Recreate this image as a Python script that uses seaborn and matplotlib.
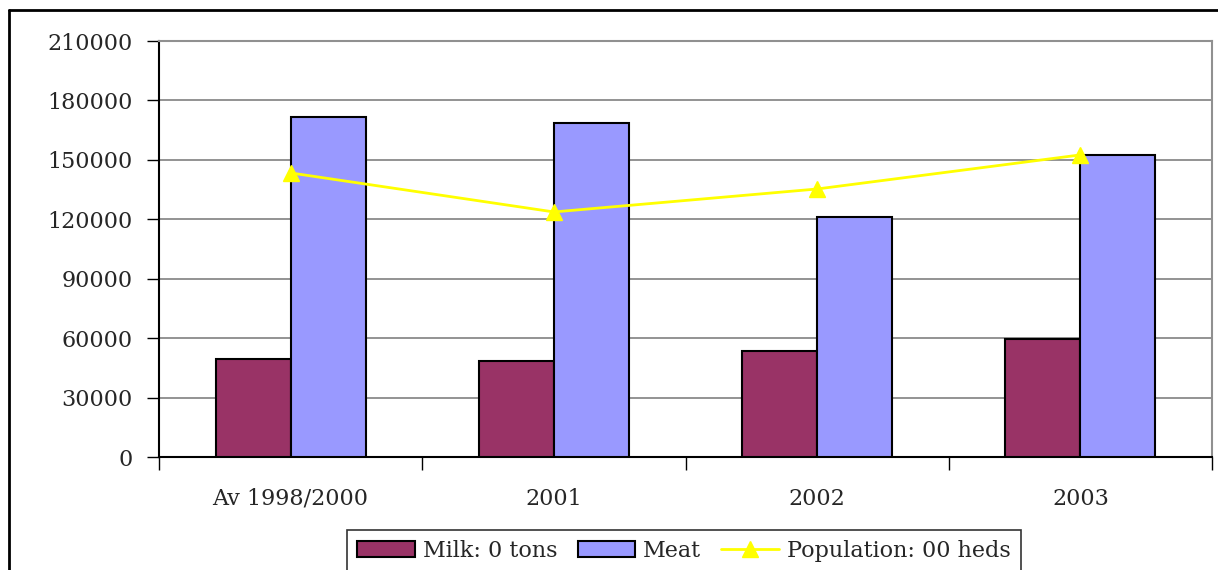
import matplotlib
matplotlib.use("Agg")
import matplotlib.pyplot as plt
from matplotlib.lines import Line2D
from matplotlib.patches import Patch
import seaborn as sns
import pandas as pd

# Chart data
periods = ["Av 1998/2000", "2001", "2002", "2003"]
milk_tons = [49500, 48500, 53500, 59600]
meat = [171600, 168600, 121100, 152400]
population = [143400, 123700, 135300, 152500]
y_ticks = [0, 30000, 60000, 90000, 120000, 150000, 180000, 210000]

series_names = ["Milk: 0 tons", "Meat"]
line_name = "Population: 00 heds"
colors = {"Milk: 0 tons": "#993366", "Meat": "#9999FF"}

df = pd.DataFrame({
    "period": periods * 2,
    "value": milk_tons + meat,
    "series": [series_names[0]] * len(periods) + [series_names[1]] * len(periods),
})

sns.set_theme(style="white")
plt.rcParams["font.family"] = ["DejaVu Serif"]

W, H = 1218, 570
fig = plt.figure(figsize=(W / 100, H / 100), dpi=100)
ax = fig.add_axes([159 / W, 1 - 457 / H, (1212 - 159) / W, (457 - 41) / H])

sns.barplot(data=df, x="period", y="value", hue="series", order=periods,
            hue_order=series_names, palette=colors, width=0.57,
            edgecolor="black", linewidth=1.5, saturation=1, ax=ax,
            legend=False, zorder=3)

ax.plot(range(len(periods)), population, color="#FFFF00", lw=2,
        marker="^", markersize=11, zorder=4)

ax.set_xlim(-0.5, len(periods) - 0.5)
ax.set_ylim(0, 210000)
ax.set_yticks(y_ticks)
ax.set_yticklabels([str(v) for v in y_ticks], fontsize=16)
ax.set_xticks(range(len(periods)))
ax.set_xticklabels(periods, fontsize=16)
ax.set_xticks([i - 0.5 for i in range(len(periods) + 1)], minor=True)
ax.set_xlabel("")
ax.set_ylabel("")

ax.yaxis.grid(True, color="#808080", lw=1.2, zorder=0)
ax.set_axisbelow(True)
ax.tick_params(axis="y", direction="out", length=9, width=1, color="black",
               left=True, pad=10)
ax.tick_params(axis="x", which="major", length=0, pad=22)
ax.tick_params(axis="x", which="minor", direction="out", length=9, width=1,
               color="black", bottom=True)

for side in ("left", "bottom"):
    ax.spines[side].set_color("black")
    ax.spines[side].set_linewidth(1.5)
for side in ("top", "right"):
    ax.spines[side].set_color("#909090")
    ax.spines[side].set_linewidth(1.5)

# Legend
handles = [
    Patch(facecolor=colors[series_names[0]], edgecolor="black", lw=1.5, label=series_names[0]),
    Patch(facecolor=colors[series_names[1]], edgecolor="black", lw=1.5, label=series_names[1]),
    Line2D([], [], color="#FFFF00", lw=2, marker="^", markersize=11, label=line_name),
]
leg = fig.legend(handles=handles, loc="upper center",
                 bbox_to_anchor=(684 / W, 1 - 530 / H), ncol=3, fontsize=16,
                 frameon=True, fancybox=False, edgecolor="black",
                 handlelength=2.6, handleheight=0.7, columnspacing=0.9,
                 handletextpad=0.35, borderpad=0.45, borderaxespad=0)
leg.get_frame().set_linewidth(1.2)

# Outer frame (left and top edges)
fig.add_artist(Line2D([9 / W, 9 / W], [0, 1 - 10 / H], color="black", lw=2,
                      transform=fig.transFigure))
fig.add_artist(Line2D([9 / W, 1], [1 - 10 / H, 1 - 10 / H], color="black", lw=2,
                      transform=fig.transFigure))

fig.savefig("out.png", dpi=100)
